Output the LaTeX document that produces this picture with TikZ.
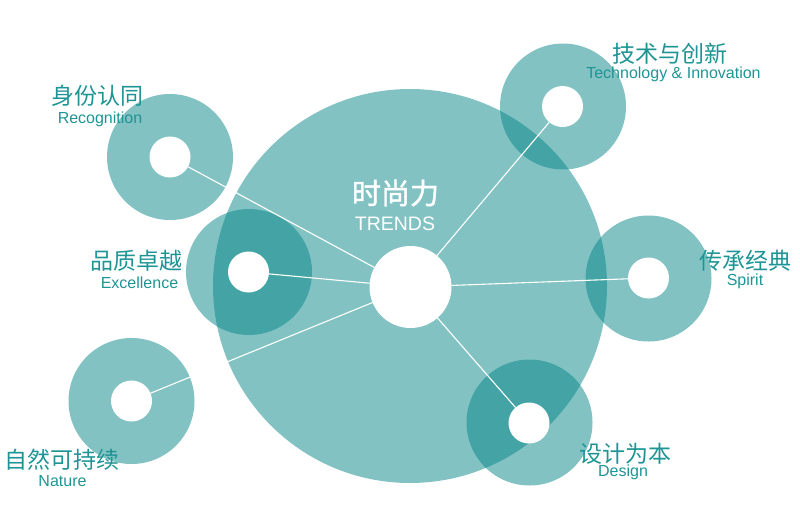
\documentclass[tikz,border=0pt]{standalone}
\usepackage{fontspec}
\setmainfont{Liberation Sans}
\newfontfamily\cjk{Noto Sans CJK SC}
\newfontfamily\cjkmid[FakeBold=1.2]{Noto Sans CJK SC}
\definecolor{tealbase}{RGB}{6,134,136}
\definecolor{labelteal}{RGB}{30,148,148}
\begin{document}
\begin{tikzpicture}[x=1pt,y=-1pt,
  disc/.style={circle,inner sep=0pt,outer sep=0pt,fill=tealbase,fill opacity=0.5,draw=none},
  hole/.style={circle,inner sep=0pt,outer sep=0pt,fill=white,draw=none,minimum size=41pt},
  link/.style={draw=white,line width=1.1pt},
  cn/.style={anchor=base,inner sep=0pt,text=labelteal,font=\cjk\fontsize{23}{23}\selectfont},
  en/.style={anchor=base,inner sep=0pt,text=labelteal,font=\fontsize{16}{16}\selectfont}]
\useasboundingbox (0,0) rectangle (800,517);
% big disc
\node[disc,minimum size=394pt] (big) at (410,286) {};
% outer rings
\node[disc,minimum size=126pt] (rRec) at (170,157) {};
\node[disc,minimum size=126pt] (rExc) at (249,272) {};
\node[disc,minimum size=126pt] (rNat) at (131.5,401) {};
\node[disc,minimum size=126pt] (rTec) at (563,106.5) {};
\node[disc,minimum size=126pt] (rSpi) at (648.5,278.5) {};
\node[disc,minimum size=126pt] (rDes) at (529.5,422.5) {};
% holes
\node[hole] (hRec) at (170,157) {};
\node[hole] (hExc) at (248.5,272) {};
\node[hole] (hNat) at (131.5,401) {};
\node[hole] (hTec) at (562.5,106.5) {};
\node[hole] (hSpi) at (648.5,278) {};
\node[hole] (hDes) at (529,423) {};
% centre
\node[circle,inner sep=0pt,outer sep=0pt,fill=white,minimum size=82pt] (core) at (410.5,287) {};
% links
\draw[link] (core) -- (hRec);
\draw[link] (core) -- (hExc);
\draw[link] (core) -- (hNat);
\draw[link] (core) -- (hTec);
\draw[link] (core) -- (hSpi);
\draw[link] (core) -- (hDes);
% title
\node[anchor=base,inner sep=0pt,text=white,font=\cjkmid\fontsize{29}{29}\selectfont] (tCn) at (395.5,204) {时尚力};
\node[anchor=base,inner sep=0pt,text=white,font=\fontsize{19.5}{20}\selectfont] (tEn) at (395,230) {TRENDS};
% labels
\node[cn] (lRec) at (97.5,104) {身份认同};
\node[en] (eRec) at (100,123) {Recognition};
\node[cn] (lExc) at (136,269) {品质卓越};
\node[en] (eExc) at (139.5,288) {Excellence};
\node[cn] (lNat) at (62.5,468) {自然可持续};
\node[en] (eNat) at (62.5,486) {Nature};
\node[cn] (lTec) at (670,62) {技术与创新};
\node[en] (eTec) at (673.5,78.5) {Technology \& Innovation};
\node[cn] (lSpi) at (745.5,269) {传承经典};
\node[en] (eSpi) at (745,285) {Spirit};
\node[cn] (lDes) at (625,462) {设计为本};
\node[en] (eDes) at (623,476) {Design};
\end{tikzpicture}
\end{document}
